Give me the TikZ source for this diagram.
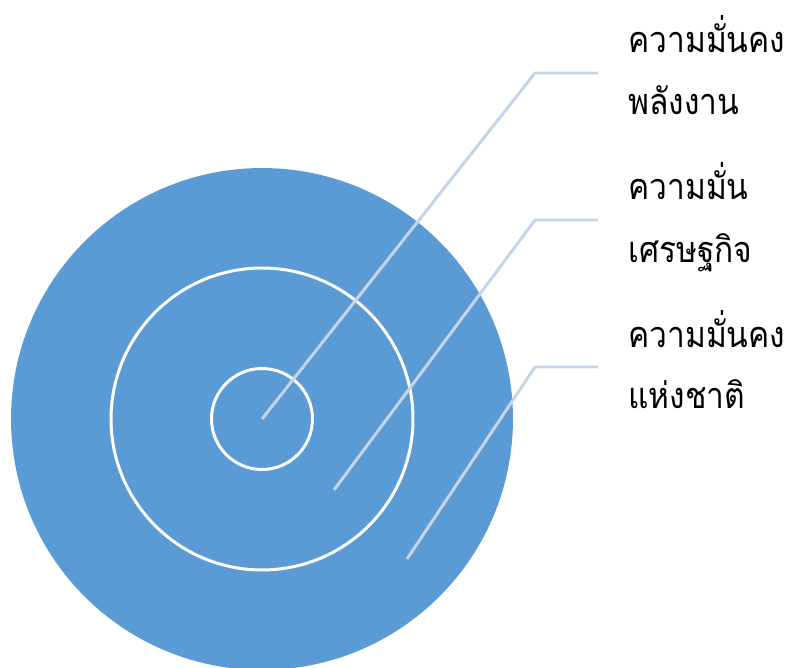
\documentclass[tikz,border=0pt]{standalone}
\usepackage{fontspec}
\newfontfamily\thaifont[Script=Thai,FakeStretch=0.88]{Loma}
\definecolor{discblue}{HTML}{5B9BD5}
\definecolor{leadblue}{HTML}{C4D5EA}
\begin{document}
\begin{tikzpicture}[
    x=0.02cm, y=-0.02cm,
    ring/.style={draw=white, line width=1.7pt},
    leader/.style={draw=leadblue, line width=1.7pt},
    thailabel/.style={font=\thaifont\fontsize{20.5}{26}\selectfont, anchor=base west, inner sep=0pt}
]
    \useasboundingbox (0,0) rectangle (793,668);
    % target rings
    \fill[discblue] (262,419) circle[radius=5.02cm];
    \draw[ring] (262,419) circle[radius=3.02cm];
    \draw[ring] (262,419) circle[radius=1.01cm];
    % leader points
    \coordinate (inner) at (262,419);
    \coordinate (middle) at (334,490);
    \coordinate (outer) at (407,559);
    \coordinate (kneeA) at (535,73);  \coordinate (endA) at (598,73);
    \coordinate (kneeB) at (535,220); \coordinate (endB) at (598,220);
    \coordinate (kneeC) at (535,367); \coordinate (endC) at (598,367);
    \draw[leader] (inner) -- (kneeA) -- (endA);
    \draw[leader] (middle) -- (kneeB) -- (endB);
    \draw[leader] (outer) -- (kneeC) -- (endC);
    % labels
    \node[thailabel] (energyA) at (628,53) {ความมั่นคง};
    \node[thailabel] (energyB) at (628,115) {พลังงาน};
    \node[thailabel] (econA) at (628,200) {ความมั่น};
    \node[thailabel] (econB) at (628,263) {เศรษฐกิจ};
    \node[thailabel] (nationA) at (628,347) {ความมั่นคง};
    \node[thailabel] (nationB) at (628,408) {แห่งชาติ};
\end{tikzpicture}
\end{document}
